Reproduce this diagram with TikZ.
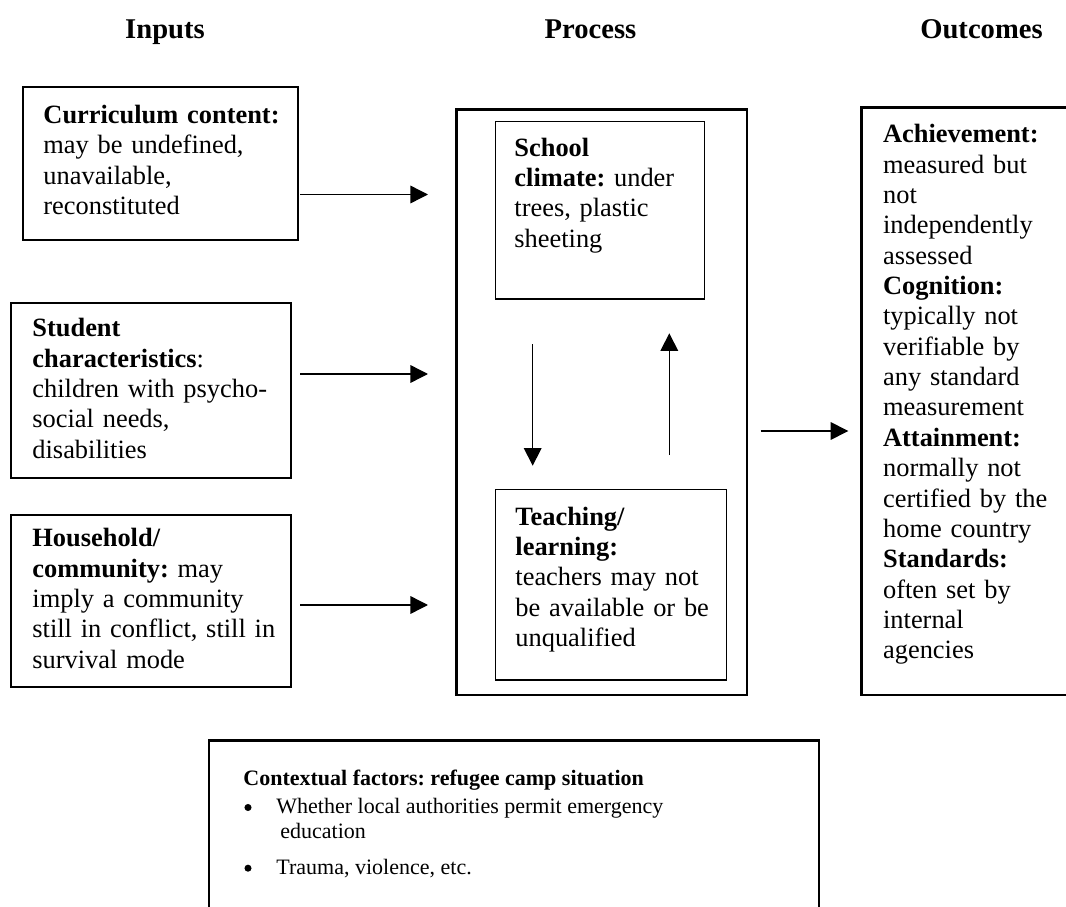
\documentclass[tikz,border=0pt]{standalone}
\usepackage{fontspec}
\setmainfont{Liberation Serif}
\usetikzlibrary{arrows.meta,fit}
\begin{document}
\frenchspacing
\begin{tikzpicture}[x=0.4545pt,y=-0.4545pt,
  body/.style={font=\frenchspacing\fontsize{12}{13.8}\selectfont, inner sep=0pt, anchor=base west, text width=240pt, align=left},
  ctx/.style={font=\frenchspacing\fontsize{10}{11.5}\selectfont, inner sep=0pt, anchor=base west},
  header/.style={font=\bfseries\fontsize{13}{15}\selectfont, inner sep=0pt, anchor=base},
  inbox/.style={draw, line width=1.35pt, inner sep=0pt},
  procbox/.style={draw, line width=1.1pt, inner sep=0pt},
  innerbox/.style={draw, line width=0.7pt, inner sep=0pt},
  bulletdot/.style={circle, fill=black, inner sep=0pt, minimum size=3.2pt},
  arr/.style={line width=0.65pt, -{Triangle[length=8pt,width=8pt]}}
]
\useasboundingbox (0,0) rectangle (1066,907);
\clip (0,0) rectangle (1066,907);

% headers
\node[header] (hin) at (165,39) {Inputs};
\node[header] (hpr) at (590.5,39) {Process};
\node[header] (hout) at (981.5,39) {Outcomes};

% input boxes
\node[inbox, fit={(23,87) (298,240)}] (in1) {};
\node[body] (in1t) at (43,123.3) {\textbf{Curriculum content:}\\ may be undefined,\\ unavailable,\\ reconstituted};

\node[inbox, fit={(11,303) (291,478)}] (in2) {};
\node[body] (in2t) at (32,336.7) {\textbf{Student}\\ \textbf{characteristics}:\\ children with psycho-\\ social needs,\\ disabilities};

\node[inbox, fit={(11,515) (291,687)}] (in3) {};
\node[body] (in3t) at (32,546.7) {\textbf{Household/}\\ \textbf{community:} may\\ imply a community\\ still in conflict, still in\\ survival mode};

% process
\node[procbox, fit={(456.7,109.3) (747,695)}] (proc) {};
\node[innerbox, fit={(495.7,121.3) (704.3,299)}] (clim) {};
\node[body] (climt) at (514,156) {\textbf{School}\\ \textbf{climate:} under\\ trees, plastic\\ sheeting};
\node[innerbox, fit={(495.7,489.3) (726.7,680)}] (teach) {};
\node[body] (teacht) at (515,525) {\textbf{Teaching/}\\ \textbf{learning:}\\ teachers may not\\ be available or be\\ unqualified};

% outcomes
\node[procbox, fit={(861.7,107.3) (1090,695)}] (out) {};
\node[body] (outt) at (882.7,142.7) {\textbf{Achievement:}\\ measured but\\ not\\ independently\\ assessed\\ \textbf{Cognition:}\\ typically not\\ verifiable by\\ any standard\\ measurement\\ \textbf{Attainment:}\\ normally not\\ certified by the\\ home country\\ \textbf{Standards:}\\ often set by\\ internal\\ agencies};

% contextual factors
\node[procbox, fit={(209,740.7) (819,940)}] (ctxbox) {};
\node[ctx] (ctxt) at (243,785.7) {\textbf{Contextual factors: refugee camp situation}};
\node[bulletdot] (bul1) at (248,807.5) {};
\node[ctx] (ctx1) at (276,813.3) {Whether local authorities permit emergency};
\node[ctx] (ctx2) at (280,838.3) {education};
\node[bulletdot] (bul2) at (248,868.2) {};
\node[ctx] (ctx3) at (276,874) {Trauma, violence, etc.};

% arrow end points
\coordinate (a1s) at (300,194.5);
\coordinate (a1e) at (428,194.5);
\coordinate (a2s) at (300,374);
\coordinate (a2e) at (428,374);
\coordinate (a3s) at (300,605);
\coordinate (a3e) at (428,605);
\coordinate (dns) at (532.7,344.3);
\coordinate (dne) at (532.7,465.7);
\coordinate (ups) at (669.3,455);
\coordinate (upe) at (669.3,333.3);
\coordinate (os) at (760.7,431);
\coordinate (oe) at (848.3,431);

\draw[arr] (a1s) -- (a1e);
\draw[arr] (a2s) -- (a2e);
\draw[arr] (a3s) -- (a3e);
\draw[arr] (dns) -- (dne);
\draw[arr] (ups) -- (upe);
\draw[arr] (os) -- (oe);
\end{tikzpicture}
\end{document}
